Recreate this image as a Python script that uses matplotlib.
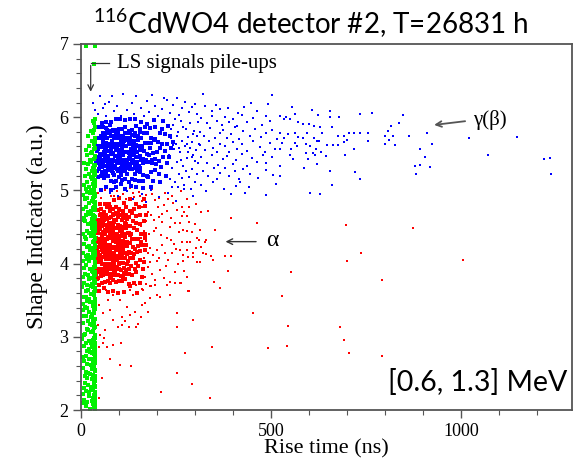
import numpy as np
import matplotlib
matplotlib.use("Agg")
import matplotlib.pyplot as plt
from matplotlib.ticker import MultipleLocator

plt.rcParams["font.family"] = ["Liberation Serif", "DejaVu Serif"]
plt.rcParams["mathtext.fontset"] = "custom"
plt.rcParams["mathtext.rm"] = "Lato"
plt.rcParams["mathtext.default"] = "regular"

# ---- data: (rise time ns, shape indicator a.u.) ----
green_pts = [
    (36,2.02),(12,2.05),(31,2.08),(24,2.01),(38,2.06),(6,2.09),(33,2.04),
    (29,2.12),(37,2.15),(17,2.11),(35,2.18),(9,2.14),(22,2.19),(38,2.13),
    (34,2.21),(14,2.26),(38,2.24),(27,2.28),(4,2.22),(31,2.29),(20,2.25),
    (37,2.33),(25,2.31),(11,2.37),(33,2.35),(36,2.39),(18,2.34),(7,2.30),
    (30,2.42),(38,2.47),(15,2.44),(35,2.41),(23,2.49),(10,2.46),(32,2.45),
    (36,2.53),(19,2.51),(28,2.56),(5,2.58),(38,2.55),(13,2.52),(33,2.59),
    (26,2.62),(37,2.64),(9,2.67),(34,2.61),(21,2.69),(31,2.66),(16,2.63),
    (38,2.71),(12,2.74),(29,2.78),(35,2.76),(6,2.72),(24,2.79),(36,2.73),
    (33,2.84),(17,2.81),(37,2.87),(22,2.83),(8,2.88),(30,2.86),(38,2.82),
    (14,2.92),(35,2.95),(27,2.91),(3,2.97),(37,2.98),(20,2.94),(32,2.96),
    (36,3.01),(11,3.04),(25,3.07),(38,3.03),(18,3.09),(31,3.06),(7,3.02),
    (34,3.12),(23,3.18),(37,3.14),(15,3.11),(29,3.16),(5,3.19),(38,3.13),
    (19,3.22),(36,3.25),(9,3.28),(32,3.21),(26,3.27),(38,3.24),(13,3.29),
    (35,3.33),(28,3.31),(4,3.36),(37,3.38),(21,3.34),(16,3.39),(33,3.32),
    (10,3.41),(38,3.44),(24,3.47),(31,3.42),(17,3.49),(36,3.46),(6,3.45),
    (37,3.52),(14,3.55),(30,3.58),(22,3.51),(35,3.57),(8,3.54),(27,3.59),
    (33,3.61),(19,3.64),(38,3.67),(12,3.62),(25,3.69),(36,3.65),(3,3.68),
    (29,3.72),(37,3.76),(16,3.71),(34,3.78),(7,3.74),(21,3.79),(38,3.73),
    (35,3.83),(11,3.86),(26,3.81),(38,3.88),(18,3.84),(31,3.89),(5,3.82),
    (23,3.92),(36,3.95),(14,3.98),(32,3.91),(9,3.94),(37,3.97),(28,3.93),
    (38,4.01),(20,4.04),(34,4.07),(6,4.03),(27,4.09),(15,4.06),(36,4.02),
    (31,4.13),(12,4.11),(37,4.16),(24,4.18),(4,4.14),(35,4.19),(19,4.12),
    (17,4.22),(38,4.25),(29,4.21),(8,4.27),(33,4.29),(22,4.24),(36,4.26),
    (35,4.31),(13,4.34),(26,4.38),(37,4.33),(10,4.36),(30,4.39),(38,4.35),
    (21,4.42),(34,4.45),(5,4.41),(37,4.48),(16,4.44),(28,4.49),(32,4.43),
    (38,4.52),(25,4.55),(11,4.58),(36,4.51),(19,4.54),(33,4.57),(7,4.59),
    (30,4.61),(14,4.66),(37,4.63),(23,4.68),(35,4.65),(9,4.62),(27,4.69),
    (36,4.73),(18,4.71),(32,4.76),(4,4.74),(38,4.79),(26,4.72),(13,4.77),
    (22,4.83),(37,4.81),(29,4.86),(10,4.88),(34,4.84),(17,4.89),(38,4.82),
    (33,4.91),(6,4.94),(24,4.97),(36,4.93),(15,4.98),(31,4.96),(38,4.92),
    (12,5.02),(35,5.05),(27,5.01),(37,5.08),(20,5.04),(8,5.07),(32,5.09),
    (38,5.13),(16,5.11),(30,5.16),(25,5.18),(36,5.14),(11,5.19),(34,5.12),
    (21,5.22),(37,5.26),(14,5.29),(33,5.23),(28,5.27),(38,5.21),
    (35,5.33),(19,5.36),(31,5.31),(9,5.38),(37,5.35),(26,5.39),
    (24,5.41),(36,5.45),(17,5.48),(33,5.43),(38,5.47),
    (30,5.52),(13,5.55),(37,5.58),(27,5.51),(35,5.56),
    (34,5.63),(22,5.61),(38,5.66),(29,5.68),
    (36,5.72),(18,5.75),(32,5.78),(37,5.71),
    (33,5.83),(38,5.86),(27,5.81),
    (35,5.92),(31,5.95),(37,5.98),
    (13,6.97),(36,6.97),(34,6.72),
    # right edge of the band is the densest
    (35,2.05),(38,2.10),(32,2.16),(37,2.21),(30,2.27),(36,2.32),(34,2.38),(38,2.43),
    (31,2.48),(37,2.54),(33,2.60),(36,2.65),(30,2.70),(38,2.76),(35,2.81),(32,2.87),
    (37,2.92),(34,2.98),(38,3.03),(31,3.08),(36,3.14),(33,3.19),(38,3.25),(30,3.30),
    (35,3.36),(37,3.41),(32,3.47),(38,3.52),(34,3.57),(36,3.63),(31,3.68),(38,3.74),
    (33,3.79),(37,3.85),(30,3.90),(35,3.96),(38,4.01),(32,4.07),(36,4.12),(34,4.18),
    (38,4.23),(31,4.29),(37,4.34),(33,4.40),(36,4.45),(30,4.51),(38,4.56),(35,4.62),
    (32,4.67),(37,4.73),(34,4.78),(38,4.84),(31,4.89),(36,4.95),(33,5.00),(38,5.06),
    (35,5.11),(32,5.17),(37,5.22),(34,5.28),
]

red_core = [
    (48,3.62),(60,3.67),(72,3.61),(85,3.62),(98,3.60),(112,3.61),(128,3.69),(147,3.60),
    (41,3.79),(48,3.71),(56,3.74),(63,3.75),(70,3.76),(77,3.74),(84,3.78),(92,3.75),
    (100,3.76),(108,3.76),(117,3.79),(127,3.72),(139,3.73),(154,3.74),
    (40,3.86),(46,3.80),(52,3.83),(58,3.84),(64,3.88),(69,3.86),(75,3.81),(80,3.80),(86,3.84),
    (92,3.85),(98,3.84),(104,3.83),(111,3.82),(118,3.86),(126,3.86),(135,3.84),(146,3.88),(160,3.82),
    (39,3.91),(44,3.93),(49,3.93),(54,3.99),(59,3.93),(63,3.96),(68,3.90),(72,3.97),(77,3.92),
    (82,3.96),(86,3.90),(91,3.92),(96,3.94),(101,3.99),(106,3.91),(112,3.94),(118,3.91),
    (125,3.92),(132,3.97),(141,3.93),(151,3.97),(164,3.92),
    (40,4.04),(44,4.05),(49,4.08),(53,4.07),(57,4.00),(62,4.00),(66,4.06),(70,4.06),(74,4.00),
    (79,4.06),(83,4.03),(87,4.01),(92,4.05),(96,4.05),(101,4.08),(106,4.08),(111,4.01),
    (117,4.07),(123,4.04),(130,4.08),(137,4.08),(145,4.01),(155,4.05),(167,4.02),
    (39,4.10),(43,4.19),(47,4.12),(51,4.10),(55,4.19),(59,4.16),(63,4.12),(67,4.18),(71,4.12),
    (75,4.19),(79,4.12),(83,4.15),(87,4.14),(91,4.10),(95,4.19),(100,4.11),(104,4.17),
    (109,4.11),(114,4.15),(120,4.13),(126,4.16),(132,4.14),(139,4.13),(147,4.16),(156,4.17),(168,4.18),
    (41,4.29),(45,4.22),(49,4.25),(53,4.29),(57,4.20),(61,4.23),(65,4.26),(69,4.20),(73,4.20),
    (77,4.21),(81,4.21),(85,4.23),(89,4.23),(93,4.20),(98,4.25),(102,4.23),(107,4.20),
    (112,4.25),(117,4.24),(123,4.28),(129,4.28),(136,4.22),(143,4.20),(151,4.24),(160,4.26),(171,4.26),
    (40,4.35),(44,4.32),(48,4.31),(52,4.33),(56,4.38),(60,4.34),(64,4.31),(68,4.34),(72,4.36),
    (76,4.39),(80,4.35),(84,4.31),(88,4.39),(92,4.34),(97,4.31),(101,4.35),(106,4.31),
    (111,4.31),(116,4.36),(122,4.30),(128,4.39),(134,4.34),(141,4.33),(149,4.33),(158,4.30),(169,4.35),
    (42,4.47),(46,4.42),(50,4.47),(55,4.40),(59,4.43),(63,4.46),(67,4.45),(71,4.47),(76,4.45),
    (80,4.49),(84,4.45),(89,4.49),(93,4.41),(98,4.49),(103,4.45),(108,4.43),(113,4.40),
    (119,4.49),(125,4.42),(132,4.41),(139,4.48),(147,4.46),(157,4.41),(168,4.41),
    (40,4.57),(45,4.53),(50,4.58),(55,4.51),(60,4.59),(64,4.53),(69,4.52),(74,4.56),(78,4.51),
    (83,4.51),(88,4.57),(93,4.59),(98,4.53),(103,4.51),(109,4.50),(115,4.55),(121,4.51),
    (128,4.51),(136,4.58),(145,4.55),(155,4.54),(167,4.58),
    (43,4.60),(49,4.67),(55,4.64),(61,4.64),(67,4.66),(73,4.62),(79,4.63),(85,4.67),(91,4.69),
    (97,4.69),(104,4.66),(111,4.62),(118,4.67),(126,4.64),(135,4.69),(145,4.65),(156,4.66),(170,4.67),
    (45,4.73),(53,4.75),(61,4.71),(69,4.78),(77,4.78),(85,4.75),(93,4.77),(101,4.75),
    (110,4.72),(119,4.77),(129,4.72),(140,4.74),(153,4.78),(168,4.79),
    (50,4.81),(62,4.82),(74,4.82),(87,4.87),(100,4.89),(114,4.83),(129,4.88),(146,4.81),(165,4.88),
    # densest centre
    (48,3.89),(58,3.90),(68,3.92),(78,3.86),(89,3.88),(100,3.93),(112,3.87),(125,3.86),
    (44,4.02),(53,4.03),(62,4.00),(71,3.97),(80,4.00),(90,3.96),(100,4.01),(110,4.01),(122,3.99),
    (42,4.07),(50,4.12),(58,4.09),(66,4.07),(74,4.12),(82,4.09),(91,4.11),(100,4.11),(109,4.08),(120,4.14),
    (45,4.16),(53,4.24),(61,4.18),(69,4.17),(77,4.15),(85,4.15),(93,4.18),(102,4.15),(111,4.20),(121,4.24),
    (43,4.34),(51,4.27),(59,4.26),(67,4.33),(75,4.26),(83,4.32),(92,4.29),(101,4.26),(110,4.28),(120,4.30),
    (46,4.44),(54,4.41),(62,4.41),(70,4.37),(78,4.44),(86,4.35),(95,4.39),(104,4.38),(113,4.40),(123,4.42),
    (44,4.47),(53,4.54),(62,4.45),(71,4.45),(80,4.48),(89,4.48),(98,4.49),(108,4.47),(119,4.54),
    (48,4.60),(58,4.57),(68,4.61),(78,4.55),(88,4.60),(98,4.64),(109,4.60),(121,4.61),
    (52,4.68),(63,4.65),(75,4.72),(87,4.68),(99,4.73),(112,4.66),
]

red_halo = [
    # between the two populations
    (45,4.96),(62,5.01),(78,4.93),(95,4.99),(110,4.95),(128,5.03),(140,4.91),(152,4.98),
    (170,4.94),(188,5.02),(205,4.90),(222,4.97),(240,4.93),(262,4.99),(280,4.88),(53,4.90),
    (87,4.92),(118,4.88),(136,4.97),(160,4.86),
    # right of the core
    (158,4.52),(172,4.31),(165,4.08),(185,4.66),(177,3.95),(193,4.44),(160,4.78),(201,4.19),
    (168,3.82),(214,4.57),(182,4.02),(195,4.87),(226,4.35),(163,4.25),(207,3.91),(175,4.71),
    (238,4.62),(190,4.12),(219,4.80),(170,3.72),(245,4.27),(198,4.49),(230,4.05),(156,4.92),
    (211,4.39),(186,3.86),(252,4.73),(204,4.63),(223,3.97),(179,4.40),(240,4.15),(161,3.65),
    (233,4.50),(196,3.78),(257,4.43),(214,4.25),(188,4.95),(248,3.88),(225,4.72),(171,4.58),
    (206,4.08),(242,4.83),(182,4.21),(218,3.80),(255,4.00),(167,4.45),(236,4.32),(199,4.03),
    (229,4.88),(175,4.15),(212,4.68),(247,4.55),(159,4.35),(192,4.60),(221,4.15),(184,3.70),
    (250,4.20),(203,4.78),(164,3.92),(234,3.75),
    (267,4.77),(285,4.78),(302,4.82),(272,4.71),(280,4.65),(265,4.65),(260,4.55),(300,4.54),
    (285,4.57),(269,4.46),(278,4.44),(291,4.43),(313,4.46),(352,4.46),(267,4.30),(278,4.30),
    (287,4.29),(304,4.35),(311,4.32),(329,4.32),(326,4.29),(260,4.19),(278,4.18),(295,4.15),
    (302,4.21),(315,4.23),(322,4.14),(330,4.13),(343,4.10),(348,4.05),(269,4.12),(282,4.09),
    (295,4.09),(269,4.04),(304,4.02),(313,4.02),(379,4.10),(395,4.11),(387,3.90),(271,3.90),
    (278,3.82),(260,3.73),(350,3.75),(367,3.67),(283,3.62),(317,4.71),(333,4.72),(395,4.62),
    (464,4.55),
    # below the core
    (253,3.32),(253,3.14),(252,2.51),(210,2.24),(48,2.16),(55,2.44),(103,2.61),(131,2.60),
    (76,2.70),(104,2.92),(59,2.91),(68,2.86),(48,2.86),(85,2.89),(146,3.14),(125,3.14),
    (107,3.16),(97,3.14),(158,3.27),(175,3.34),(160,3.43),(168,3.46),(181,3.53),(199,3.57),
    (195,3.71),(225,3.71),(247,3.74),(262,3.74),(282,3.62),(234,3.57),(208,3.55),(142,3.34),
    (120,3.41),(129,3.30),(76,3.37),(59,3.32),(48,3.43),(46,3.16),(63,3.09),(50,3.03),
    (60,2.98),(85,3.23),(107,3.27),(116,3.21),(151,3.18),(164,3.64),(181,3.69),(146,3.71),
    (129,3.64),(138,3.57),(103,3.50),(85,3.57),(72,3.50),(67,3.64),
    # far points
    (696,4.53),(874,4.48),(737,4.15),(700,4.04),(1005,4.05),(552,3.88),(792,3.78),(528,3.56),
    (545,3.15),(682,3.13),(692,2.95),(542,2.87),(705,2.78),(792,2.74),(492,2.85),(453,3.32),
    (345,2.86),(274,2.78),(295,3.23),(292,2.36),(340,2.17),
]

blue_core = [
    (52,5.01),(66,5.04),(79,5.01),(91,5.05),(104,5.09),(117,5.02),(131,5.06),(146,5.05),(163,5.03),(184,5.05),
    (45,5.18),(53,5.19),(61,5.17),(70,5.19),(78,5.13),(86,5.12),(93,5.13),(101,5.18),(109,5.14),
    (117,5.16),(125,5.12),(134,5.16),(143,5.14),(153,5.13),(164,5.13),(176,5.18),(190,5.13),(207,5.12),
    (41,5.27),(47,5.29),(54,5.25),(60,5.20),(66,5.22),(71,5.28),(77,5.28),(83,5.24),(88,5.21),
    (94,5.29),(99,5.27),(105,5.21),(111,5.26),(116,5.29),(122,5.23),(128,5.29),(134,5.29),
    (141,5.23),(148,5.27),(156,5.25),(164,5.21),(173,5.20),(183,5.25),(194,5.28),(206,5.22),(223,5.20),
    (39,5.39),(44,5.37),(50,5.34),(55,5.39),(61,5.34),(66,5.34),(71,5.35),(75,5.39),(80,5.32),
    (85,5.33),(90,5.30),(95,5.37),(100,5.38),(105,5.31),(110,5.36),(114,5.34),(119,5.30),
    (125,5.36),(130,5.32),(136,5.38),(142,5.36),(148,5.32),(155,5.30),(162,5.38),(170,5.39),
    (179,5.39),(188,5.38),(198,5.36),(210,5.32),(226,5.38),
    (40,5.40),(45,5.43),(49,5.44),(54,5.48),(58,5.42),(63,5.45),(67,5.43),(72,5.44),(76,5.42),
    (81,5.41),(85,5.41),(89,5.47),(94,5.40),(98,5.46),(102,5.47),(107,5.49),(111,5.48),
    (116,5.42),(120,5.41),(125,5.44),(130,5.48),(135,5.40),(140,5.48),(146,5.46),(151,5.45),
    (157,5.41),(164,5.43),(171,5.42),(178,5.48),(186,5.42),(195,5.43),(205,5.40),(217,5.46),(232,5.46),
    (42,5.54),(46,5.57),(51,5.50),(55,5.59),(60,5.53),(64,5.58),(69,5.54),(73,5.54),(78,5.56),
    (82,5.50),(87,5.59),(91,5.55),(96,5.55),(100,5.50),(104,5.55),(109,5.58),(113,5.52),
    (118,5.52),(123,5.53),(127,5.51),(132,5.57),(137,5.52),(143,5.55),(148,5.53),(154,5.55),
    (160,5.59),(167,5.54),(174,5.50),(182,5.58),(190,5.51),(199,5.52),(209,5.58),(221,5.54),(236,5.58),
    (41,5.61),(47,5.61),(52,5.61),(57,5.67),(62,5.64),(67,5.65),(72,5.60),(77,5.62),(82,5.68),
    (86,5.64),(91,5.61),(96,5.60),(101,5.62),(106,5.67),(110,5.60),(115,5.61),(120,5.69),
    (125,5.63),(131,5.68),(136,5.65),(142,5.62),(148,5.61),(154,5.61),(161,5.60),(168,5.65),
    (176,5.65),(184,5.65),(193,5.69),(203,5.66),(214,5.64),(227,5.64),(241,5.66),
    (44,5.72),(50,5.72),(57,5.79),(63,5.74),(69,5.78),(75,5.79),(81,5.75),(87,5.74),(92,5.79),
    (98,5.73),(104,5.70),(110,5.73),(116,5.78),(122,5.71),(128,5.79),(135,5.76),(142,5.74),
    (149,5.74),(157,5.72),(165,5.78),(174,5.78),(184,5.71),(195,5.70),(207,5.79),(220,5.77),(235,5.75),
    (48,5.86),(57,5.86),(66,5.85),(75,5.89),(84,5.83),(92,5.83),(100,5.84),(108,5.84),(117,5.86),
    (126,5.81),(135,5.82),(145,5.88),(156,5.84),(168,5.87),(181,5.85),(196,5.86),(212,5.84),(229,5.88),
    (55,5.92),(67,5.93),(79,5.93),(91,5.97),(103,5.98),(115,5.96),(128,5.97),(142,5.98),
    (157,5.93),(174,5.91),(193,5.96),(215,5.95),
    # densest centre
    (56,5.32),(64,5.26),(73,5.33),(81,5.27),(90,5.33),(98,5.26),(107,5.33),(115,5.27),(124,5.33),
    (133,5.29),(142,5.30),(152,5.34),
    (50,5.35),(58,5.39),(66,5.40),(74,5.37),(82,5.38),(89,5.40),(97,5.38),(104,5.41),(112,5.35),
    (120,5.37),(128,5.43),(137,5.42),(147,5.39),(158,5.42),
    (47,5.46),(55,5.48),(62,5.50),(70,5.47),(78,5.51),(85,5.51),(93,5.47),(101,5.49),(108,5.54),
    (116,5.52),(124,5.52),(133,5.50),(143,5.52),(155,5.47),
    (49,5.59),(57,5.62),(65,5.55),(72,5.64),(80,5.58),(88,5.61),(95,5.64),(103,5.64),(111,5.64),
    (119,5.60),(127,5.64),(136,5.60),(146,5.62),(158,5.59),
    (52,5.74),(61,5.71),(69,5.71),(78,5.74),(86,5.71),(95,5.72),(103,5.71),(112,5.67),(121,5.72),
    (130,5.72),(140,5.67),(151,5.69),
    (58,5.75),(68,5.82),(78,5.81),(88,5.81),(98,5.78),(108,5.75),(119,5.78),(130,5.80),(142,5.78),(156,5.80),
]

blue_halo = [
    # above the core
    (32,6.20),(50,6.29),(81,6.29),(110,6.32),(146,6.29),(186,6.30),(225,6.23),(252,6.26),(300,6.18),
    (45,6.05),(58,6.12),(67,6.02),(74,6.21),(88,6.08),(96,6.15),(104,6.01),(121,6.10),(133,6.19),
    (140,6.04),(157,6.13),(165,6.02),(173,6.22),(180,6.07),(195,6.15),(203,6.01),(212,6.11),
    (219,6.26),(234,6.06),(241,6.16),(258,6.03),(266,6.12),(274,6.21),(283,6.07),(291,6.14),
    (306,6.04),(62,6.18),(38,6.10),
    # under the core
    (75,4.97),(98,4.92),(122,4.99),(138,4.88),(160,4.95),(185,5.00),(204,4.91),(228,4.97),
    (251,4.86),(270,5.02),(295,4.93),(112,5.00),(172,4.84),(240,5.04),(88,5.02),
    # right flank of the core
    (232,5.48),(236,5.71),(239,5.30),(243,5.89),(245,5.56),(248,5.12),(250,5.64),(253,5.39),
    (256,5.80),(258,5.22),(261,5.52),(263,5.95),(266,5.68),(268,5.34),(271,5.07),(273,5.60),
    (276,5.84),(278,5.44),(281,5.73),(283,5.18),(286,5.58),(288,5.92),(291,5.29),(293,5.66),
    (296,5.49),(298,5.81),(301,5.12),(303,5.55),(306,5.75),(308,5.37),(311,5.63),(233,5.15),
    (241,5.62),(247,5.98),(255,5.05),(262,5.41),(269,5.87),(275,5.26),(282,5.53),(289,5.02),
    (294,5.77),(300,5.40),(307,5.93),(252,5.74),(265,5.17),(279,5.64),(292,5.45),(305,5.23),
    (238,5.84),(259,5.58),
    # 300-520 ns
    (325,6.15),(344,6.09),(355,6.17),(367,6.11),(414,6.06),(429,6.14),(464,6.08),(493,6.18),
    (320,6.32),(502,6.30),(386,6.13),(447,6.19),
    (317,5.99),(331,5.92),(346,6.02),(359,5.95),(370,5.89),(379,6.00),(390,5.93),(401,5.97),
    (411,5.88),(423,6.03),(436,5.94),(453,5.99),(475,5.90),(488,6.01),(497,5.95),
    (313,5.80),(324,5.74),(339,5.85),(352,5.71),(366,5.79),(373,5.83),(383,5.72),(396,5.77),
    (405,5.86),(416,5.70),(425,5.81),(445,5.75),(458,5.84),(473,5.73),(488,5.78),(502,5.82),(515,5.70),
    (313,5.62),(326,5.55),(338,5.67),(348,5.58),(357,5.53),(367,5.64),(379,5.60),(390,5.52),
    (401,5.66),(411,5.57),(423,5.63),(436,5.54),(453,5.68),(471,5.59),(484,5.52),(497,5.65),(510,5.56),
    (317,5.45),(331,5.38),(344,5.49),(361,5.35),(374,5.43),(385,5.47),(399,5.36),(409,5.41),
    (423,5.50),(436,5.34),(449,5.44),(464,5.39),(480,5.48),(488,5.37),(502,5.45),
    (322,5.27),(335,5.19),(350,5.30),(357,5.16),(367,5.24),(379,5.31),(390,5.20),(405,5.26),
    (416,5.15),(427,5.29),(445,5.22),(466,5.17),(488,5.28),(506,5.21),
    (315,5.08),(329,4.99),(348,5.11),(376,5.02),(396,4.95),(408,5.06),(418,5.12),(431,4.97),
    (443,5.04),(488,4.94),(513,5.09),
]

blue_tail = [
    (524,6.01),(533,5.97),(540,6.00),(550,5.98),(556,6.14),(562,6.04),(572,5.93),(583,5.91),
    (601,5.91),(609,6.10),(624,6.03),(612,5.88),(629,5.86),(654,6.08),(656,6.00),(660,5.86),
    (679,6.00),(733,6.04),(765,6.06),(846,6.03),(836,5.92),(816,5.88),(809,5.81),(801,5.75),
    (822,5.74),(825,5.62),(800,5.64),(810,5.69),(862,5.75),(910,5.79),(923,5.63),(892,5.56),
    (904,5.45),(880,5.34),(892,5.35),(919,5.32),(882,5.23),(1022,5.72),(1070,5.49),(1147,5.73),
    (1219,5.43),(1233,5.44),(1237,5.22),
    (524,5.78),(533,5.72),(546,5.77),(563,5.79),(572,5.73),(584,5.72),(594,5.79),(612,5.72),
    (620,5.68),(627,5.68),(634,5.78),(647,5.62),(662,5.62),(675,5.62),(677,5.75),(691,5.75),
    (704,5.78),(719,5.79),(733,5.78),(756,5.78),(754,5.68),(699,5.69),(693,5.66),(719,5.56),
    (695,5.48),(656,5.26),(660,5.08),(603,4.96),(629,4.95),(587,5.30),(620,5.36),(598,5.43),
    (592,5.51),(610,5.51),(616,5.49),(631,5.53),(645,5.47),(619,5.57),(603,5.60),(591,5.63),
    (568,5.61),(564,5.65),(552,5.57),(559,5.43),(550,5.48),(524,5.57),(528,5.65),(524,5.33),
    (524,5.20),(722,5.25),(734,5.16),
]

red_c = np.array(red_core)
red_h = np.array(red_halo)
blue_c = np.array(blue_core)
blue_h = np.array(blue_halo + blue_tail)
green = np.array(green_pts)

RED, BLUE, GREEN = "#ff0000", "#0000ff", "#00f000"

fig = plt.figure(figsize=(5.76, 4.69), dpi=100)
ax = fig.add_axes([81/576, 1 - 410/469, 491/576, 366/469])

ax.scatter(red_h[:, 0], red_h[:, 1], color=RED, marker="s", s=4.5, linewidths=0)
ax.scatter(red_c[:, 0], red_c[:, 1], color=RED, marker="s", s=6.5, linewidths=0)
ax.scatter(blue_h[:, 0], blue_h[:, 1], color=BLUE, marker="s", s=4.5, linewidths=0)
ax.scatter(blue_c[:, 0], blue_c[:, 1], color=BLUE, marker="s", s=6.5, linewidths=0)
ax.scatter(green[:, 0], green[:, 1], color=GREEN, marker="s", s=6, linewidths=0)

ax.set_xlim(0, 1292)
ax.set_ylim(2, 7)
ax.xaxis.set_major_locator(MultipleLocator(500))
ax.xaxis.set_minor_locator(MultipleLocator(100))
ax.yaxis.set_major_locator(MultipleLocator(1))
ax.yaxis.set_minor_locator(MultipleLocator(0.2))
ax.tick_params(which="both", direction="out", top=False, right=False,
               color="#555555", labelsize=13, pad=3)
ax.tick_params(which="major", length=6, width=1.0)
ax.tick_params(which="minor", length=3.5, width=0.8)
for sp in ax.spines.values():
    sp.set_color("#555555")
    sp.set_linewidth(1.3)

ax.set_xlabel("Rise time (ns)", fontsize=16, labelpad=0)
ax.set_ylabel("Shape Indicator (a.u.)", fontsize=17, labelpad=8)

# annotations
ax.text(95, 6.74, "LS signals pile-ups", fontsize=15, va="center", ha="left")
ax.plot([74, 25.5], [6.74, 6.74], color="#333333", lw=0.9)
ax.annotate("", xy=(25.5, 6.31), xytext=(25.5, 6.745),
            arrowprops=dict(arrowstyle="->", color="#333333", lw=0.9))

ax.text(1032, 5.96, "γ(β)", fontsize=15, va="center", ha="left")
ax.annotate("", xy=(922, 5.89), xytext=(1018, 5.95),
            arrowprops=dict(arrowstyle="->", color="#555555", lw=1.3))

ax.text(487, 4.32, "α", fontsize=17, va="center", ha="left")
ax.annotate("", xy=(373, 4.30), xytext=(468, 4.30),
            arrowprops=dict(arrowstyle="->", color="#333333", lw=1.0))

ax.text(0.99, 0.074, "[0.6, 1.3] MeV", transform=ax.transAxes,
        fontsize=20.5, family=["Lato", "DejaVu Sans"], ha="right", va="center")

fig.text(0.54, 0.949, "$^{116}$CdWO4 detector #2, T=26831 h",
         fontsize=20, family=["Lato", "DejaVu Sans"], ha="center", va="center")

fig.savefig("out.png", dpi=100, facecolor="white")
